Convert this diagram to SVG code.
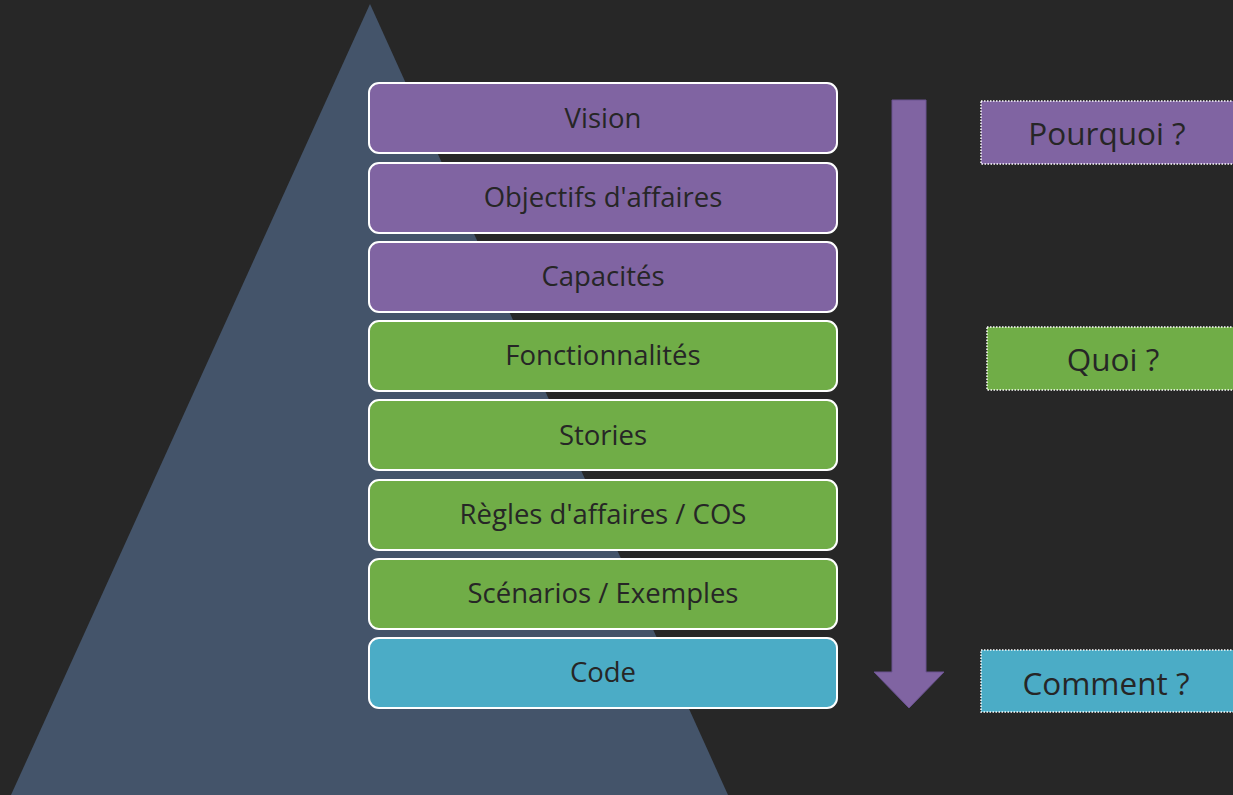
<svg xmlns="http://www.w3.org/2000/svg" width="1233" height="795" viewBox="0 0 1233 795">
<style>
.box{stroke:#FFFFFF;stroke-width:2}
.p{fill:#8064A2}.g{fill:#70AD47}.b{fill:#4BACC6}
.lbl{font-family:"Open Sans","Noto Sans",sans-serif;font-size:27.5px;fill:#262626;text-anchor:middle;dominant-baseline:central}
.q{stroke:#FFFFFF;stroke-width:1.5;stroke-dasharray:1.5 1.5}
.ql{font-family:"Open Sans","Noto Sans",sans-serif;font-size:31.5px;fill:#262626;text-anchor:middle;dominant-baseline:central}
</style>
<rect width="1233" height="795" fill="#272727"/>
<polygon points="370,4 11,795 728,795" fill="#44546A"/>
<g id="vision"><rect class="box p" x="369" y="83" width="468" height="70" rx="10"/><text class="lbl" x="603" y="117">Vision</text></g>
<g id="objectifs"><rect class="box p" x="369" y="163" width="468" height="70" rx="10"/><text class="lbl" x="603" y="196">Objectifs d'affaires</text></g>
<g id="capacites"><rect class="box p" x="369" y="242" width="468" height="70" rx="10"/><text class="lbl" x="603" y="275">Capacités</text></g>
<g id="fonctionnalites"><rect class="box g" x="369" y="321" width="468" height="70" rx="10"/><text class="lbl" x="603" y="354">Fonctionnalités</text></g>
<g id="stories"><rect class="box g" x="369" y="400" width="468" height="70" rx="10"/><text class="lbl" x="603" y="434">Stories</text></g>
<g id="regles"><rect class="box g" x="369" y="480" width="468" height="70" rx="10"/><text class="lbl" x="603" y="513">Règles d'affaires / COS</text></g>
<g id="scenarios"><rect class="box g" x="369" y="559" width="468" height="70" rx="10"/><text class="lbl" x="603" y="592">Scénarios / Exemples</text></g>
<g id="code"><rect class="box b" x="369" y="638" width="468" height="70" rx="10"/><text class="lbl" x="603" y="671">Code</text></g>
<g id="connectors">
<polygon points="892,100 926,100 926,672 944,672 909,708 874,672 892,672" fill="#8064A2" stroke="#6A5290" stroke-width="1"/>
</g>
<g id="pourquoi"><rect class="q p" x="981" y="101" width="256" height="63"/><text class="ql" x="1107" y="132">Pourquoi ?</text></g>
<g id="quoi"><rect class="q g" x="987" y="327" width="256" height="63"/><text class="ql" x="1113" y="358">Quoi ?</text></g>
<g id="comment"><rect class="q b" x="981" y="650" width="256" height="62"/><text class="ql" x="1106" y="682">Comment ?</text></g>
</svg>
